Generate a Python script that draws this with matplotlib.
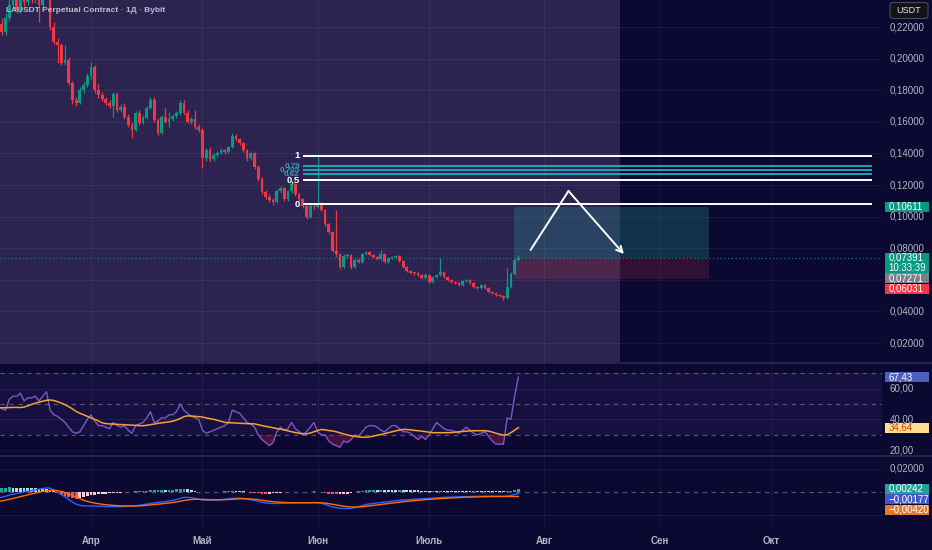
import numpy as np
import pandas as pd
import matplotlib
matplotlib.use("Agg")
import matplotlib.pyplot as plt
from matplotlib.patches import Rectangle, FancyBboxPatch
from matplotlib.lines import Line2D
from matplotlib.transforms import blended_transform_factory as btf

# ---------------- data ----------------
title = "LAUSDT Perpetual Contract · 1Д · Bybit"
start_date = "2025-03-07"
first_open = 0.2260
close = [
    0.2220, 0.2168, 0.2257, 0.2340, 0.2434, 0.2307, 0.2402, 0.2358, 0.2421, 0.2371,
    0.2409, 0.2340, 0.2396, 0.2434, 0.2200, 0.2105, 0.2086, 0.1972, 0.1991, 0.1846,
    0.1738, 0.1719, 0.1800, 0.1832, 0.1889, 0.1946, 0.1800, 0.1769, 0.1744, 0.1719,
    0.1700, 0.1776, 0.1675, 0.1693, 0.1630, 0.1580, 0.1548, 0.1656, 0.1592, 0.1624,
    0.1687, 0.1738, 0.1611, 0.1529, 0.1630, 0.1599, 0.1617, 0.1637, 0.1656, 0.1719,
    0.1656, 0.1599, 0.1617, 0.1567, 0.1548, 0.1370, 0.1422, 0.1365, 0.1390, 0.1403,
    0.1422, 0.1409, 0.1440, 0.1510, 0.1490, 0.1466, 0.1422, 0.1370, 0.1403, 0.1314,
    0.1238, 0.1156, 0.1124, 0.1105, 0.1092, 0.1162, 0.1181, 0.1111, 0.1162, 0.1206,
    0.1143, 0.1111, 0.1067, 0.0997, 0.1067, 0.1060, 0.1085, 0.1042, 0.0953, 0.0903,
    0.0782, 0.0763, 0.0681, 0.0751, 0.0757, 0.0681, 0.0725, 0.0713, 0.0763, 0.0775,
    0.0757, 0.0744, 0.0732, 0.0763, 0.0713, 0.0738, 0.0742, 0.0751, 0.0719, 0.0681,
    0.0656, 0.0643, 0.0640, 0.0630, 0.0611, 0.0630, 0.0586, 0.0618, 0.0630, 0.0649,
    0.0618, 0.0599, 0.0586, 0.0580, 0.0567, 0.0592, 0.0599, 0.0580, 0.0554, 0.0548,
    0.0567, 0.0548, 0.0523, 0.0516, 0.0504, 0.0497, 0.0485, 0.0554, 0.0637, 0.0727,
    0.07391,
]
high = [
    0.2300, 0.2260, 0.2290, 0.2420, 0.2480, 0.2470, 0.2450, 0.2440, 0.2470, 0.2450,
    0.2460, 0.2440, 0.2450, 0.2500, 0.2460, 0.2230, 0.2130, 0.2100, 0.2086, 0.2010,
    0.1860, 0.1760, 0.1820, 0.1850, 0.1910, 0.1978, 0.1960, 0.1840, 0.1790, 0.1760,
    0.1735, 0.1790, 0.1790, 0.1710, 0.1720, 0.1650, 0.1600, 0.1670, 0.1675, 0.1640,
    0.1700, 0.1757, 0.1757, 0.1625, 0.1640, 0.1690, 0.1660, 0.1650, 0.1670, 0.1738,
    0.1735, 0.1675, 0.1630, 0.1674, 0.1585, 0.1560, 0.1435, 0.1440, 0.1400, 0.1415,
    0.1435, 0.1430, 0.1450, 0.1529, 0.1520, 0.1500, 0.1475, 0.1430, 0.1415, 0.1410,
    0.1325, 0.1250, 0.1170, 0.1140, 0.1120, 0.1175, 0.1195, 0.1190, 0.1170, 0.1225,
    0.1215, 0.1150, 0.1120, 0.1075, 0.1080, 0.1085, 0.1384, 0.1095, 0.1050, 0.0960,
    0.0910, 0.1042, 0.0770, 0.0765, 0.0770, 0.0765, 0.0735, 0.0735, 0.0772, 0.0785,
    0.0782, 0.0765, 0.0750, 0.0790, 0.0770, 0.0745, 0.0752, 0.0760, 0.0758, 0.0725,
    0.0688, 0.0662, 0.0650, 0.0648, 0.0638, 0.0640, 0.0636, 0.0626, 0.0638, 0.0738,
    0.0655, 0.0624, 0.0605, 0.0592, 0.0586, 0.0598, 0.0607, 0.0604, 0.0585, 0.0560,
    0.0575, 0.0572, 0.0553, 0.0528, 0.0520, 0.0510, 0.0502, 0.0675, 0.0650, 0.0740,
    0.0755,
]
low = [
    0.2190, 0.2150, 0.2150, 0.2240, 0.2320, 0.2290, 0.2290, 0.2330, 0.2340, 0.2350,
    0.2350, 0.2231, 0.2320, 0.2380, 0.2180, 0.2090, 0.1972, 0.1960, 0.1960, 0.1830,
    0.1710, 0.1700, 0.1710, 0.1780, 0.1820, 0.1870, 0.1785, 0.1750, 0.1730, 0.1705,
    0.1690, 0.1630, 0.1660, 0.1660, 0.1620, 0.1565, 0.1497, 0.1540, 0.1580, 0.1585,
    0.1615, 0.1680, 0.1600, 0.1515, 0.1520, 0.1590, 0.1570, 0.1605, 0.1625, 0.1645,
    0.1645, 0.1590, 0.1585, 0.1555, 0.1535, 0.1307, 0.1355, 0.1345, 0.1355, 0.1380,
    0.1395, 0.1398, 0.1400, 0.1435, 0.1480, 0.1455, 0.1410, 0.1355, 0.1360, 0.1300,
    0.1225, 0.1140, 0.1110, 0.1090, 0.1075, 0.1085, 0.1150, 0.1100, 0.1100, 0.1150,
    0.1130, 0.1100, 0.1055, 0.0985, 0.0990, 0.1050, 0.1055, 0.1035, 0.0940, 0.0890,
    0.0775, 0.0745, 0.0670, 0.0675, 0.0740, 0.0670, 0.0675, 0.0705, 0.0708, 0.0755,
    0.0750, 0.0738, 0.0725, 0.0728, 0.0705, 0.0708, 0.0730, 0.0735, 0.0712, 0.0672,
    0.0648, 0.0636, 0.0632, 0.0622, 0.0603, 0.0605, 0.0578, 0.0580, 0.0612, 0.0625,
    0.0612, 0.0592, 0.0580, 0.0574, 0.0560, 0.0562, 0.0587, 0.0574, 0.0548, 0.0542,
    0.0544, 0.0542, 0.0517, 0.0510, 0.0498, 0.0490, 0.0472, 0.0480, 0.0548, 0.0630,
    0.0720,
]
rsi = [
    48, 47, 46, 53, 55, 55, 57, 52, 54, 54,
    55, 52, 55, 58, 46, 43, 42, 40, 38, 35,
    32, 31, 32, 36, 40, 43, 39, 36, 36, 35,
    34, 38, 36, 35, 36, 33, 31, 36, 37, 38,
    41, 45, 38, 39, 41, 41, 43, 43, 45, 50,
    46, 44, 42, 41, 40, 33, 31, 32, 33, 34,
    35, 36, 38, 46, 45, 44, 41, 38, 37, 35,
    30, 27, 25, 23, 25, 32, 35, 33, 34, 38,
    34, 32, 30, 32, 35, 38, 32, 30, 30, 26,
    24, 23, 22, 26, 25, 27, 30, 29, 32, 35,
    36, 36, 35, 33, 32, 34, 36, 36, 34, 32,
    32, 31, 29, 27, 29, 27, 30, 34, 38, 36,
    34, 33, 33, 32, 31, 33, 35, 33, 31, 30,
    31, 32, 29, 26, 24, 24, 24, 41, 40, 55,
    67.43,
]
rsi_ma = [
    47.6, 47.6, 47.6, 47.7, 47.8, 47.8, 47.7, 48.0, 48.8, 49.7,
    50.5, 51.2, 51.8, 52.4, 52.6, 52.3, 51.5, 50.6, 49.6, 48.3,
    46.8, 45.2, 44.0, 43.0, 42.0, 41.0, 40.0, 39.0, 37.8, 37.3,
    37.1, 37.0, 36.8, 36.7, 36.6, 36.4, 36.3, 36.1, 36.0, 35.9,
    36.2, 36.6, 37.0, 37.5, 37.8, 38.1, 38.4, 38.9, 39.6, 40.6,
    41.8, 42.3, 42.2, 42.0, 41.8, 41.5, 41.0, 40.5, 40.1, 39.4,
    38.8, 38.1, 37.9, 37.8, 37.7, 37.5, 37.4, 37.3, 37.2, 37.1,
    36.6, 36.0, 35.5, 35.1, 34.6, 34.1, 33.7, 33.2, 32.6, 32.0,
    31.5, 31.0, 30.8, 30.6, 31.2, 32.0, 32.8, 33.5, 33.2, 32.8,
    32.5, 32.0, 31.3, 30.6, 30.0, 29.4, 29.0, 28.7, 28.5, 28.4,
    28.7, 29.2, 29.7, 30.2, 30.8, 31.4, 32.0, 32.6, 33.1, 33.5,
    33.5, 33.2, 32.9, 32.7, 32.4, 32.1, 31.7, 31.4, 31.4, 31.4,
    31.4, 31.4, 31.5, 31.7, 32.0, 32.2, 32.4, 32.6, 32.7, 32.7,
    32.7, 32.7, 32.4, 31.8, 31.0, 30.4, 29.9, 30.1, 31.4, 33.0,
    34.64,
]
macd_milli = [
    -5.5, -4.8, -4.0, -3.0, -2.3, -1.6, -0.9, -0.2, 0.4, 1.0,
    1.6, 2.2, 2.8, 3.3, 3.0, 1.5, -0.5, -2.5, -4.5, -6.8,
    -9.0, -10.8, -11.8, -12.3, -12.4, -12.4, -12.5, -12.6, -12.7, -12.9,
    -13.0, -12.9, -13.0, -13.0, -12.8, -12.6, -12.4, -12.2, -11.8, -11.3,
    -10.8, -10.2, -9.8, -9.4, -9.0, -8.6, -8.1, -7.6, -6.8, -5.8,
    -5.0, -4.9, -5.2, -5.8, -6.5, -7.2, -7.4, -7.4, -7.3, -7.2,
    -7.0, -6.6, -6.2, -5.8, -5.6, -5.6, -5.9, -6.4, -7.0, -7.6,
    -8.4, -9.2, -9.8, -10.1, -10.2, -10.2, -10.1, -10.0, -9.9, -9.7,
    -9.6, -9.6, -9.6, -9.6, -9.5, -9.4, -9.5, -10.0, -11.0, -12.2,
    -13.2, -13.9, -14.4, -14.6, -14.6, -14.4, -13.8, -13.0, -12.1, -11.2,
    -10.6, -10.2, -9.8, -9.4, -9.0, -8.7, -8.3, -7.9, -7.5, -7.2,
    -7.0, -6.8, -6.6, -6.4, -6.2, -6.0, -5.8, -5.5, -5.3, -5.1,
    -4.9, -4.8, -4.7, -4.6, -4.5, -4.4, -4.3, -4.2, -4.1, -4.0,
    -4.0, -3.9, -3.9, -3.9, -3.9, -4.0, -4.0, -3.7, -3.2, -2.5,
    -1.774,
]
signal_milli = [
    -8.5, -8.0, -7.4, -6.7, -5.9, -5.1, -4.3, -3.5, -2.7, -1.9,
    -1.2, -0.5, 0.2, 0.8, 1.2, 1.3, 0.9, 0.2, -0.7, -1.9,
    -3.3, -4.8, -6.2, -7.4, -8.4, -9.2, -9.9, -10.4, -10.9, -11.3,
    -11.6, -11.9, -12.1, -12.3, -12.4, -12.5, -12.4, -12.4, -12.3, -12.1,
    -11.8, -11.5, -11.2, -10.9, -10.5, -10.1, -9.8, -9.4, -8.9, -8.3,
    -7.7, -7.2, -6.8, -6.6, -6.6, -6.7, -6.8, -6.9, -7.0, -7.0,
    -7.0, -6.9, -6.8, -6.6, -6.4, -6.2, -6.1, -6.2, -6.3, -6.6,
    -6.9, -7.4, -7.9, -8.3, -8.7, -9.0, -9.2, -9.4, -9.5, -9.6,
    -9.6, -9.6, -9.6, -9.6, -9.6, -9.6, -9.6, -9.7, -9.9, -10.4,
    -10.9, -11.5, -12.1, -12.6, -13.0, -13.3, -13.4, -13.3, -13.1, -12.7,
    -12.3, -11.9, -11.5, -11.1, -10.7, -10.3, -9.9, -9.5, -9.1, -8.7,
    -8.4, -8.1, -7.8, -7.5, -7.2, -6.9, -6.7, -6.5, -6.2, -6.0,
    -5.8, -5.6, -5.4, -5.2, -5.1, -4.9, -4.8, -4.7, -4.6, -4.5,
    -4.4, -4.3, -4.3, -4.2, -4.2, -4.2, -4.2, -4.2, -4.1, -4.1,
    -4.196,
]
month_labels = ["Апр", "Май", "Июн", "Июль", "Авг", "Сен", "Окт"]
price_ticks = [0.02, 0.04, 0.06, 0.08, 0.10, 0.12, 0.14, 0.16, 0.18, 0.20, 0.22]
rsi_ticks = [20, 40, 60]
macd_ticks = [0.02]
macd_grid = [0.02, -0.02]

# drawings (in chart coordinates: day offset from 1 Apr, price)
fib_high, fib_low = 0.1384, 0.1079
fib_levels = [1, 0.79, 0.705, 0.62, 0.5, 0]
fib_labels = ["1", "0,79", "0,705", "0,62", "0,5", "0"]
fib_start_day, fib_end_day = 57.05, 210.2
pos_start_day, pos_end_day = 113.8, 166.3
pos_entry, pos_target, pos_stop = 0.07391, 0.10611, 0.06031
prev_close_tag = 0.07271
arrow_days = [118.3, 128.5, 143.4]
arrow_prices = [0.0789, 0.1162, 0.0763]
shade_end_day = 142.35
countdown = "10:33:39"

# ---------------- style ----------------
W, H = 932, 550
BG = "#0b0932"
PURPLE = "#2c2350"
UP, DOWN = "#089981", "#f23645"
GRID = (1, 1, 1, 0.055)
TXT = "#b2b5be"
FONT = "Liberation Sans"
PLOT_R = 882
PX_PER_DAY = 3.716
APR_PX = 91

plt.rcParams["font.family"] = [FONT, "DejaVu Sans"]

close = np.array(close); high = np.array(high); low = np.array(low)
rsi = np.array(rsi, float); rsi_ma = np.array(rsi_ma)
macd = np.array(macd_milli) / 1000.0
signal = np.array(signal_milli) / 1000.0
hist = macd - signal
opens = np.concatenate([[first_open], close[:-1]])

ref = pd.Timestamp("2025-04-01")
dates = pd.date_range(start_date, periods=len(close), freq="D")
x = np.asarray((dates - ref).days, dtype=float)
months = pd.date_range("2025-04-01", "2025-10-01", freq="MS")
mx = np.asarray((months - ref).days, dtype=float)

xlim = (-APR_PX / PX_PER_DAY, (PLOT_R - APR_PX) / PX_PER_DAY)

fig = plt.figure(figsize=(W / 100, H / 100), dpi=100, facecolor=BG)


def add_ax(top, bottom):
    a = fig.add_axes([0, 1 - bottom / H, PLOT_R / W, (bottom - top) / H])
    a.set_facecolor(BG)
    for s in a.spines.values():
        s.set_visible(False)
    a.set_xticks([]); a.set_yticks([])
    a.set_xlim(*xlim)
    return a


ax = add_ax(0, 362)
ax.set_ylim((374.6 - 362) / 1580, 374.6 / 1580)
rax = add_ax(363, 455.7)
rax.set_ylim(50 - (455.7 - 404) / 1.543, 50 + 41 / 1.543)
max_ = add_ax(456.5, 528)
max_.set_ylim((491.7 - 528) / 1150, (491.7 - 456.5) / 1150)

# ---------------- main pane ----------------
ax.axvspan(xlim[0], shade_end_day, color=PURPLE, zorder=0, lw=0)
for p in price_ticks:
    ax.axhline(p, color=GRID, lw=0.8, zorder=1)
for a in (ax, rax, max_):
    for m in mx:
        a.axvline(m, color=GRID, lw=0.8, zorder=1)

# position tool
ax.add_patch(Rectangle((pos_start_day, pos_entry), pos_end_day - pos_start_day,
                       pos_target - pos_entry, facecolor=(0.149, 0.651, 0.604, 0.25),
                       edgecolor="none", zorder=2))
ax.add_patch(Rectangle((pos_start_day, pos_stop), pos_end_day - pos_start_day,
                       pos_entry - pos_stop, facecolor=(0.949, 0.212, 0.271, 0.17),
                       edgecolor="none", zorder=2))

# last price dotted line
ax.axhline(close[-1], color=UP, lw=0.9, ls=(0, (1, 2)), alpha=0.8, zorder=2)

# candles
up = close >= opens
cols = np.where(up, UP, DOWN)
ax.vlines(x, low, high, colors=cols, lw=0.9, zorder=3)
body = np.maximum(np.abs(close - opens), 0.0007)
ax.bar(x, body, bottom=np.minimum(opens, close), width=0.74, color=cols, lw=0, zorder=4)

# fibonacci
for lvl, lab in zip(fib_levels, fib_labels):
    p = fib_low + lvl * (fib_high - fib_low)
    main_level = lvl in (0, 0.5, 1)
    c = "#ffffff" if main_level else "#1ea7b8"
    ax.hlines(p, fib_start_day, fib_end_day, color=c, lw=1.4, zorder=5)
    ax.text(fib_start_day - 0.9, p, lab, color=c, fontsize=6.8 if main_level else 5.8,
            ha="right", va="center", fontweight="bold", zorder=6)

# arrow drawing
ax.plot(arrow_days[:2], arrow_prices[:2], color="white", lw=1.4, zorder=6,
        solid_capstyle="round")
ax.annotate("", xy=(arrow_days[2], arrow_prices[2]), xytext=(arrow_days[1], arrow_prices[1]),
            arrowprops=dict(arrowstyle="->", color="white", lw=1.4, mutation_scale=11,
                            shrinkA=0, shrinkB=0), zorder=6)

fig.text(6 / W, 1 - 10 / H, title, color="#bdbec7", fontsize=6.0, va="center",
         fontweight="bold")

# ---------------- RSI pane ----------------
rax.axhspan(30, 70, color="#7e57c2", alpha=0.10, lw=0, zorder=0)
for v in rsi_ticks:
    rax.axhline(v, color=GRID, lw=0.8, zorder=1)
for v in (70, 50, 30):
    rax.axhline(v, color="#787b86", lw=0.8, ls=(0, (4, 4)), alpha=0.7, zorder=2)
rax.fill_between(x, rsi, 30, where=rsi < 30, interpolate=True, color="#8b1e45",
                 alpha=0.45, lw=0, zorder=2)
rax.plot(x, rsi, color="#7e57c2", lw=1.0, zorder=3)
rax.plot(x, rsi_ma, color="#f7a035", lw=1.1, zorder=4)

# ---------------- MACD pane ----------------
for v in macd_grid:
    max_.axhline(v, color=GRID, lw=0.8, zorder=1)
max_.axhline(0, color="#787b86", lw=0.8, ls=(0, (4, 4)), alpha=0.7, zorder=1)
hcols = []
prev = 0.0
for h in hist:
    if h >= 0:
        hcols.append("#26a69a" if h > prev else "#b2dfdb")
    else:
        hcols.append("#ffcdd2" if h > prev else "#ff5252")
    prev = h
max_.bar(x, hist, width=0.74, color=hcols, lw=0, zorder=2)
max_.plot(x, macd, color="#2962ff", lw=1.0, zorder=3)
max_.plot(x, signal, color="#ff6d00", lw=1.0, zorder=3)

# ---------------- separators ----------------
for yy in (362.5, 456):
    fig.add_artist(Line2D([0, 1], [1 - yy / H, 1 - yy / H], transform=fig.transFigure,
                          color="#2a2950", lw=1.2))

# ---------------- axis labels ----------------
def fmt(v, d):
    return f"{v:.{d}f}".replace(".", ",").replace("-", "−")


def axis_label(a, v, s):
    a.text(890 / PLOT_R, v, s, transform=btf(a.transAxes, a.transData), color=TXT,
           fontsize=7, va="center", ha="left", clip_on=False)


for p in price_ticks:
    if p == 0.06:
        continue  # hidden behind the price tags, as on the reference
    axis_label(ax, p, fmt(p, 5))
for v in rsi_ticks:
    axis_label(rax, v, fmt(v, 2))
for v in macd_ticks:
    axis_label(max_, v, fmt(v, 5))

for m, lab in zip(mx, month_labels):
    fig.text(m, 1 - 541 / H, lab, transform=btf(max_.transData, fig.transFigure),
             color=TXT, fontsize=7, ha="center", va="center", fontweight="bold")


# ---------------- price tags ----------------
def tags(a, items):
    prev_bottom = -1e9
    for val, lines, bg, fg in items:
        yc = H - a.transData.transform((0, val))[1]
        h = 10.0 * len(lines)
        top = yc - 5.0
        if top < prev_bottom + 0.5:
            top = prev_bottom + 0.5
        bottom = top + h
        prev_bottom = bottom
        fig.add_artist(Rectangle((885 / W, 1 - bottom / H), 44 / W, h / H,
                                 transform=fig.transFigure, facecolor=bg,
                                 edgecolor="none", zorder=10))
        for i, t in enumerate(lines):
            fig.text(888.5 / W, 1 - (top + 5 + 10 * i) / H, t, color=fg, fontsize=7,
                     va="center", ha="left", zorder=11)


tags(ax, [
    (pos_target, [fmt(pos_target, 5)], UP, "white"),
    (close[-1], [fmt(close[-1], 5), countdown], UP, "white"),
    (prev_close_tag, [fmt(prev_close_tag, 5)], "#7b7e8c", "white"),
    (pos_stop, [fmt(pos_stop, 5)], DOWN, "white"),
])
tags(rax, [(rsi[-1], [fmt(rsi[-1], 2)], "#4e5fbf", "white")])
tags(rax, [(rsi_ma[-1], [fmt(rsi_ma[-1], 2)], "#ffdf8e", "#c4410d")])
tags(max_, [
    (hist[-1], [fmt(hist[-1], 5)], "#22a095", "white"),
    (macd[-1], [fmt(macd[-1], 5)], "#4358c6", "white"),
    (signal[-1], [fmt(signal[-1], 5)], "#e27b2f", "white"),
])

# currency box
fig.add_artist(FancyBboxPatch((890 / W, 1 - 18.5 / H), 38 / W, 16 / H,
                              boxstyle="round,pad=0,rounding_size=0.004",
                              transform=fig.transFigure, facecolor="#131316",
                              edgecolor="#4a4a55", lw=0.8, zorder=10))
fig.text(909 / W, 1 - 10.5 / H, "USDT", color="#e0e0e6", fontsize=6.5, ha="center",
         va="center", zorder=11)

fig.savefig("out.png", dpi=100, facecolor=BG)
